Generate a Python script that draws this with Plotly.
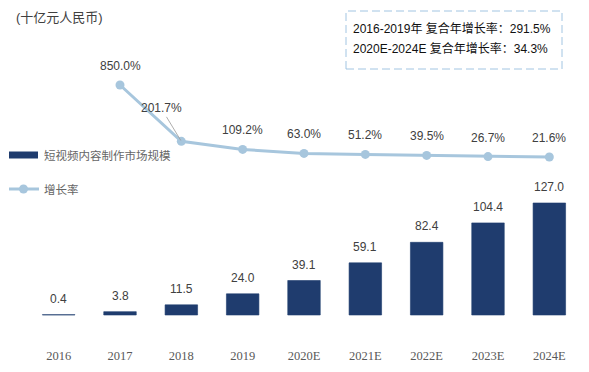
import plotly.graph_objects as go

categories = ["2016", "2017", "2018", "2019", "2020E", "2021E", "2022E", "2023E", "2024E"]
market_size = [0.4, 3.8, 11.5, 24.0, 39.1, 59.1, 82.4, 104.4, 127.0]
growth_rate = [None, 850.0, 201.7, 109.2, 63.0, 51.2, 39.5, 26.7, 21.6]
bar_labels = ["0.4", "3.8", "11.5", "24.0", "39.1", "59.1", "82.4", "104.4", "127.0"]
growth_labels = ["", "850.0%", "201.7%", "109.2%", "63.0%", "51.2%", "39.5%", "26.7%", "21.6%"]
series_names = ["短视频内容制作市场规模", "增长率"]
unit_text = "(十亿元人民币)"
cagr_lines = ["2016-2019年 复合年增长率：291.5%", "2020E-2024E 复合年增长率：34.3%"]

BAR_COLOR = "#1f3c6e"
LINE_COLOR = "#a7c6dd"
BOX_COLOR = "#a2c5e2"
LABEL_COLOR = "#404040"
FONT = "Liberation Sans, Arial, Noto Sans CJK SC, sans-serif"

W, H = 589, 372
L, R, T, B = 28, 9, 10, 26
pw, ph = W - L - R, H - T - B


def px_x(p):
    return (p - L) / pw


def px_y(p):
    return 1 - (p - T) / ph


fig = go.Figure()
fig.add_trace(go.Bar(
    x=categories, y=market_size, name=series_names[0],
    marker=dict(color=BAR_COLOR, line=dict(color=BAR_COLOR, width=0.6)),
    width=0.53, showlegend=False,
))
fig.add_trace(go.Scatter(
    x=categories, y=growth_rate, name=series_names[1], yaxis="y2",
    mode="lines+markers", line=dict(color=LINE_COLOR, width=3),
    marker=dict(color=LINE_COLOR, size=9), connectgaps=False, showlegend=False,
))

annotations = []
# bar value labels
for i, (v, lab) in enumerate(zip(market_size, bar_labels)):
    annotations.append(dict(
        x=i, y=v, xref="x", yref="y", text=lab, showarrow=False,
        yanchor="middle", yshift=16,
        font=dict(size=12, color=LABEL_COLOR, family=FONT),
    ))
# growth labels
for i, (v, lab) in enumerate(zip(growth_rate, growth_labels)):
    if v is None or not lab:
        continue
    if lab == "201.7%":
        annotations.append(dict(
            x=i, y=v, xref="x", yref="y2", text=lab, showarrow=True,
            arrowhead=0, arrowwidth=0.8, arrowcolor="#999999",
            ax=-20, ay=-33, standoff=1,
            font=dict(size=12, color=LABEL_COLOR, family=FONT),
        ))
    else:
        annotations.append(dict(
            x=i, y=v, xref="x", yref="y2", text=lab, showarrow=False,
            yanchor="middle", yshift=19,
            font=dict(size=12, color=LABEL_COLOR, family=FONT),
        ))

annotations.append(dict(
    x=px_x(14), y=px_y(17), xref="paper", yref="paper", text=unit_text, showarrow=False,
    xanchor="left", yanchor="middle",
    font=dict(size=13, color="#404040", family=FONT),
))
for i, t in enumerate(cagr_lines):
    annotations.append(dict(
        x=px_x(351), y=px_y(28 + 20 * i), xref="paper", yref="paper",
        text=t, showarrow=False, xanchor="left", yanchor="middle",
        font=dict(size=12, color="#111111", family=FONT),
    ))

# custom legend texts
for name, yy in zip(series_names, [155, 189]):
    annotations.append(dict(
        x=px_x(42), y=px_y(yy), xref="paper", yref="paper", text=name,
        showarrow=False, xanchor="left", yanchor="middle",
        font=dict(size=11.5, color="#666666", family=FONT),
    ))

shapes = [
    dict(type="rect", xref="paper", yref="paper",
         x0=px_x(346), x1=px_x(562), y0=px_y(69), y1=px_y(11),
         line=dict(color=BOX_COLOR, width=1, dash="8px,4px")),
    # legend symbols
    dict(type="rect", xref="paper", yref="paper",
         x0=px_x(9), x1=px_x(38), y0=px_y(158.5), y1=px_y(151.5),
         fillcolor=BAR_COLOR, line=dict(width=0)),
    dict(type="line", xref="paper", yref="paper",
         x0=px_x(9), x1=px_x(39), y0=px_y(189), y1=px_y(189),
         line=dict(color=LINE_COLOR, width=3)),
    dict(type="circle", xref="paper", yref="paper",
         x0=px_x(19), x1=px_x(28), y0=px_y(193.5), y1=px_y(184.5),
         fillcolor=LINE_COLOR, line=dict(width=0)),
]

# primary: 0 at y=315, 0.882 px/unit
y0_px, k1 = 315, 0.882
bot_px, top_px = T + ph, T
r1 = [-(bot_px - y0_px) / k1, (y0_px - top_px) / k1]
# secondary: 21.6 at y=157, 0.0869 px per %
k2 = 0.0869
r2 = [21.6 - (bot_px - 157) / k2, 21.6 + (157 - top_px) / k2]

fig.update_layout(
    width=W, height=H,
    margin=dict(l=L, r=R, t=T, b=B, autoexpand=False),
    paper_bgcolor="white", plot_bgcolor="white",
    showlegend=False,
    xaxis=dict(
        type="category", range=[-0.5, len(categories) - 0.5], autorange=False,
        showline=False, showgrid=False, zeroline=False, ticks="",
        tickfont=dict(family="Liberation Serif, Times New Roman, serif", size=12.5, color="#595959"),
    ),
    yaxis=dict(range=r1, autorange=False, visible=False, showgrid=False, zeroline=False),
    yaxis2=dict(range=r2, autorange=False, visible=False, overlaying="y", side="right",
                showgrid=False, zeroline=False),
    annotations=annotations,
    shapes=shapes,
)

fig.write_html(
    "out.html",
    config={"displayModeBar": False},
    post_script="document.body.style.margin='0';document.body.style.padding='0';",
)
